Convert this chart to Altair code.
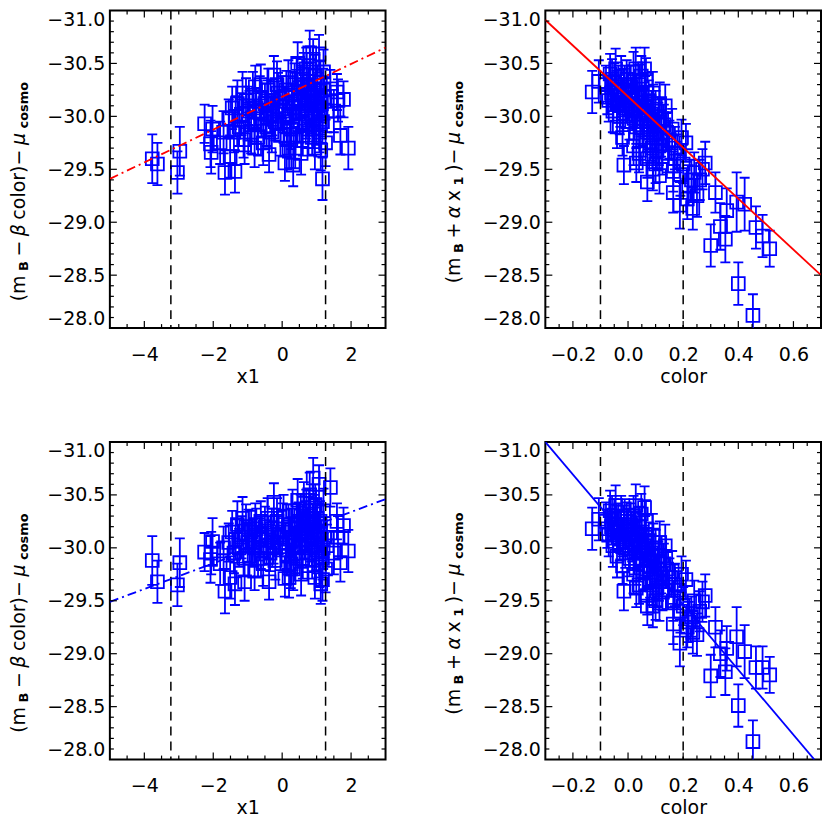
import altair as alt
import numpy as np
import pandas as pd

# ---------------- data ----------------
# left panels (x1): outliers, dense cluster, extras
X1_A = [-3.77, -3.62, -2.97, -3.04, -2.25, -2.02, -2.08, -2.06, -1.66, -1.37,
        -1.51, -1.09, -0.38, 0.08, 0.32, 1.17, 1.12, 1.69, 1.92, 1.78,
        1.59, 1.40, 1.07, 0.90, 0.70, -0.24, -0.62]
YTL_A = [-29.60, -29.55, -29.67, -29.47, -29.93, -29.88, -29.74, -29.66, -29.47, -29.48,
         -29.62, -29.73, -29.64, -29.56, -29.54, -29.41, -29.68, -29.82, -29.70, -30.16,
         -30.23, -30.26, -30.59, -30.54, -30.45, -30.39, -30.30]
YBL_A = [-29.88, -29.68, -29.86, -29.65, -29.96, -30.06, -29.89, -29.95, -29.59, -29.66,
         -29.72, -29.68, -29.68, -29.71, -29.80, -29.70, -29.66, -29.86, -29.97, -30.21,
         -30.25, -30.57, -30.60, -30.66, -30.35, -30.43, -30.25]
ERRL_A = [0.23, 0.20, 0.23, 0.20, 0.18, 0.22, 0.22, 0.20, 0.21, 0.20,
          0.20, 0.18, 0.17, 0.17, 0.20, 0.20, 0.19, 0.18, 0.20, 0.17,
          0.17, 0.18, 0.18, 0.19, 0.20, 0.18, 0.19]

X1_B = [-1.55, -1.45, -1.40, -1.30, -1.25, -1.18, -1.12, -1.05, -1.00, -0.95,
        -0.90, -0.85, -0.80, -0.75, -0.70, -0.65, -0.60, -0.55, -0.50, -0.45,
        -0.40, -0.35, -0.30, -0.25, -0.20, -0.15, -0.10, -0.05]
YTL_B = [-29.98, -30.08, -29.85, -30.12, -29.90, -30.02, -29.78, -30.15, -29.95, -30.05,
         -29.85, -30.20, -29.92, -30.08, -29.80, -30.18, -29.98, -29.75, -30.12, -29.90,
         -30.25, -30.02, -29.85, -30.15, -29.95, -30.30, -30.05, -29.82]
YBL_B = [-30.05, -30.15, -29.95, -30.22, -30.00, -30.10, -29.90, -30.20, -30.05, -29.92,
         -30.15, -30.05, -30.00, -30.18, -29.90, -30.08, -30.12, -29.85, -30.20, -30.02,
         -30.10, -29.95, -30.18, -30.05, -29.88, -30.25, -30.12, -29.98]
ERRL_B = [0.18, 0.20, 0.19, 0.22, 0.18, 0.20, 0.17, 0.21, 0.18, 0.19,
          0.20, 0.22, 0.18, 0.19, 0.17, 0.20, 0.18, 0.21, 0.19, 0.18,
          0.20, 0.17, 0.19, 0.20, 0.18, 0.22, 0.18, 0.19]

X1_C = [0.00, 0.04, 0.10, 0.14, 0.18, 0.22, 0.26, 0.30, 0.34, 0.38,
        0.42, 0.46, 0.50, 0.54, 0.57, 0.60, 0.63, 0.66, 0.69, 0.72,
        0.75, 0.78, 0.81, 0.84, 0.87, 0.90, 0.93, 0.96, 0.99, 1.02,
        1.05, 1.08, 1.11, 1.14, 1.17, 1.20, 1.23, 1.26, 1.30]
YTL_C = [-30.18, -29.95, -30.10, -29.78, -30.32, -30.02, -29.88, -30.22, -30.08, -29.70,
         -30.35, -30.15, -29.92, -30.28, -30.05, -29.82, -30.40, -30.18, -29.98, -30.30,
         -29.88, -30.12, -30.45, -30.02, -29.80, -30.25, -30.10, -30.38, -29.92, -30.20,
         -30.05, -29.85, -30.32, -30.12, -29.95, -30.42, -30.18, -29.75, -30.05]
YBL_C = [-30.15, -30.30, -30.05, -29.92, -30.20, -30.10, -29.85, -30.35, -30.02, -29.95,
         -30.22, -30.12, -30.00, -30.30, -30.15, -29.90, -30.42, -30.08, -30.25, -30.18,
         -29.95, -30.35, -30.30, -30.05, -29.88, -30.22, -30.12, -30.40, -29.98, -30.28,
         -30.15, -29.82, -30.20, -30.08, -29.90, -30.35, -30.10, -29.80, -30.02]
ERRL_C = [0.20, 0.20, 0.18, 0.17, 0.21, 0.18, 0.19, 0.20, 0.18, 0.19,
          0.20, 0.18, 0.17, 0.20, 0.18, 0.19, 0.20, 0.18, 0.19, 0.20,
          0.18, 0.19, 0.21, 0.18, 0.17, 0.20, 0.18, 0.20, 0.19, 0.19,
          0.18, 0.19, 0.20, 0.18, 0.20, 0.21, 0.19, 0.22, 0.20]

X1_D = [0.20, 0.55, -0.80, 0.95, 1.50, 1.62, -1.70, -1.80]
YTL_D = [-29.70, -29.65, -29.70, -29.70, -30.05, -30.15, -29.85, -29.75]
YBL_D = [-29.72, -29.75, -29.78, -29.72, -29.95, -30.10, -30.00, -29.85]
ERRL_D = [0.19, 0.20, 0.18, 0.20, 0.20, 0.20, 0.20, 0.20]

X1_E = [-1.35, -1.15, -0.98, -0.78, -0.62, -0.42, -0.28, -0.12, 0.02, 0.12,
        0.28, 0.36, 0.48, 0.58, 0.68, 0.76, 0.86, 0.92, 1.00, 1.10,
        1.19, 0.45, 0.80, 0.25]
YTL_E = [-30.00, -30.22, -30.10, -30.28, -30.05, -30.15, -30.00, -30.22, -30.05, -30.25,
         -30.12, -30.30, -30.02, -30.35, -30.08, -30.25, -30.15, -29.88, -30.12, -30.02,
         -30.25, -30.50, -30.60, -29.78]
YBL_E = [-30.08, -30.28, -30.18, -30.22, -29.98, -30.28, -30.00, -30.15, -30.22, -29.98,
         -30.18, -30.08, -30.25, -30.02, -30.15, -30.28, -30.02, -30.32, -30.10, -30.25,
         -30.00, -30.45, -30.50, -29.80]
ERRL_E = [0.19, 0.20, 0.18, 0.20, 0.18, 0.19, 0.18, 0.19, 0.20, 0.18,
          0.19, 0.20, 0.18, 0.19, 0.18, 0.20, 0.19, 0.18, 0.20, 0.19,
          0.20, 0.20, 0.21, 0.18]

# right panels (color)
COL_A = [-0.130, -0.106, -0.015, -0.020, 0.070, 0.114, 0.030, 0.164, 0.164, 0.188,
         0.194, 0.210, 0.235, 0.240, 0.280, 0.317, 0.300, 0.335, 0.353, 0.358,
         0.400, 0.394, 0.423, 0.453, 0.464, 0.488, 0.514, 0.270, 0.260, 0.220,
         0.250, 0.200, 0.180, 0.150, 0.140]
YTR_A = [-30.23, -30.33, -29.54, -29.80, -29.38, -29.44, -29.56, -29.28, -29.48, -29.16,
         -29.80, -29.75, -29.13, -29.47, -29.56, -29.28, -28.78, -28.96, -28.84, -29.11,
         -28.42, -29.19, -29.17, -28.12, -28.95, -28.87, -28.75, -29.50, -29.40, -29.35,
         -29.25, -29.55, -29.65, -29.78, -29.85]
YBR_A = [-30.18, -30.27, -29.59, -29.83, -29.45, -29.48, -29.62, -29.28, -29.50, -29.10,
         -29.75, -29.70, -29.20, -29.50, -29.55, -29.25, -28.79, -29.00, -28.83, -29.05,
         -28.51, -29.16, -29.02, -28.17, -28.87, -28.87, -28.80, -29.49, -29.40, -29.30,
         -29.18, -29.45, -29.60, -29.72, -29.80]
ERRR_A = [0.20, 0.20, 0.18, 0.17, 0.18, 0.17, 0.18, 0.19, 0.19, 0.22,
          0.17, 0.18, 0.20, 0.19, 0.20, 0.19, 0.20, 0.22, 0.22, 0.21,
          0.20, 0.28, 0.25, 0.20, 0.20, 0.20, 0.17, 0.19, 0.19, 0.19,
          0.20, 0.18, 0.18, 0.18, 0.18]

COL_B = [-0.080, -0.070, -0.065, -0.060, -0.055, -0.050, -0.045, -0.040, -0.035, -0.030,
         -0.025, -0.020, -0.015, -0.010, -0.005, 0.000, 0.005, 0.010, 0.015, 0.020,
         0.025, 0.030, 0.035, 0.040, 0.045, 0.050, 0.055, 0.060, 0.065, 0.070,
         0.075, 0.080, 0.085, 0.090, 0.095, 0.100, 0.105, 0.110, 0.115, 0.120,
         0.125, 0.130, 0.135, 0.040, 0.070, 0.100, -0.040, 0.020, 0.060, 0.090]
YTR_B = [-30.30, -30.15, -30.40, -30.22, -30.05, -30.32, -30.45, -30.12, -30.28, -30.00,
         -30.38, -30.18, -30.25, -30.08, -30.35, -30.15, -29.95, -30.28, -30.05, -30.42,
         -30.18, -29.90, -30.10, -30.30, -29.98, -30.20, -29.80, -30.08, -30.35, -29.92,
         -30.15, -29.75, -30.02, -30.22, -29.85, -30.05, -29.68, -29.95, -30.12, -29.80,
         -29.62, -29.92, -30.10, -29.65, -29.60, -29.55, -29.90, -29.72, -30.45, -29.50]
YBR_B = [-30.25, -30.12, -30.35, -30.20, -30.02, -30.28, -30.40, -30.15, -30.22, -30.05,
         -30.30, -30.10, -30.20, -30.00, -30.25, -30.12, -29.90, -30.22, -30.05, -30.30,
         -30.15, -29.85, -30.08, -30.20, -29.95, -30.12, -29.78, -30.02, -30.25, -29.88,
         -30.05, -29.70, -29.95, -30.12, -29.80, -29.98, -29.62, -29.88, -30.05, -29.75,
         -29.58, -29.85, -30.02, -29.65, -29.55, -29.50, -29.92, -29.75, -30.38, -29.45]
ERRR_B = [0.18, 0.20, 0.19, 0.17, 0.20, 0.18, 0.19, 0.18, 0.20, 0.17,
          0.19, 0.18, 0.20, 0.19, 0.18, 0.19, 0.17, 0.20, 0.18, 0.19,
          0.18, 0.20, 0.18, 0.19, 0.17, 0.20, 0.18, 0.19, 0.20, 0.18,
          0.19, 0.17, 0.18, 0.20, 0.18, 0.19, 0.17, 0.18, 0.20, 0.18,
          0.17, 0.19, 0.20, 0.18, 0.18, 0.18, 0.20, 0.18, 0.20, 0.20]

COL_C = [-0.075, -0.058, -0.042, -0.028, -0.012, 0.002, 0.012, 0.022, 0.032, 0.042,
         0.052, 0.062, 0.072, 0.082, 0.092, 0.102, 0.112, 0.122, 0.028, 0.048,
         0.068, 0.088, 0.145, 0.160, 0.170, 0.190, 0.215, 0.230]
YTR_C = [-30.20, -30.35, -30.25, -30.10, -30.30, -30.22, -30.12, -29.98, -30.22, -30.08,
         -29.90, -30.18, -30.02, -29.88, -30.12, -29.80, -29.72, -29.98, -30.45, -30.38,
         -29.85, -29.70, -29.65, -29.88, -29.70, -29.45, -29.22, -29.40]
YBR_C = [-30.18, -30.30, -30.22, -30.15, -30.28, -30.18, -30.08, -29.95, -30.12, -30.02,
         -29.88, -30.10, -29.95, -29.82, -30.05, -29.72, -29.68, -29.92, -30.40, -30.32,
         -29.80, -29.65, -29.60, -29.78, -29.65, -29.40, -29.25, -29.35]
ERRR_C = [0.18, 0.19, 0.18, 0.20, 0.18, 0.19, 0.18, 0.20, 0.18, 0.19,
          0.18, 0.20, 0.18, 0.19, 0.18, 0.20, 0.18, 0.19, 0.20, 0.19,
          0.18, 0.19, 0.18, 0.19, 0.20, 0.20, 0.19, 0.19]

# fit lines (end points) and cut lines
FIT_TL_X, FIT_TL_Y = [-5.0, 3.0], [-29.41, -30.65]
FIT_BL_X, FIT_BL_Y = [-5.0, 3.0], [-29.49, -30.46]
FIT_TR_X, FIT_TR_Y = [-0.3, 0.7], [-30.91, -28.50]
FIT_BR_X, FIT_BR_Y = [-0.3, 0.676], [-31.0, -28.0]
CUT_X1 = [-3.23, 1.26]
CUT_COLOR = [-0.1, 0.2]

# axes
X1_DOMAIN = [-5, 3]
X1_TICKS = [-4, -2, 0, 2]
COLOR_DOMAIN = [-0.3, 0.7]
COLOR_TICKS = [-0.2, 0.0, 0.2, 0.4, 0.6]
Y_DOMAIN = [-31, -28]
Y_TICKS = [-31.0, -30.5, -30.0, -29.5, -29.0, -28.5, -28.0]

# ---------------- styling ----------------
FONT = "DejaVu Sans"
FS = 19
SUB = 13
BLUE = "#0000ff"
RED = "#ff0000"
W, H = 276, 318
SW = 1.8

REG_W = {'(': 0.390, ')': 0.390, 'm': 0.974, '−': 0.838, '+': 0.838, 'β': 0.635,
         'α': 0.659, 'μ': 0.636, 'c': 0.550, 'o': 0.612, 'l': 0.278, 'r': 0.411,
         'x': 0.592}
BOLD_W = {'B': 0.762, '1': 0.696, 'c': 0.593, 'o': 0.687, 's': 0.595, 'm': 1.042}

ONE = pd.DataFrame({"k": [0]})


def seg_width(t, size, bold):
    tab = BOLD_W if bold else REG_W
    return sum(tab.get(ch, 0.6) for ch in t) * size


def title_layers(segs, center_y, base_x):
    gap = 4.5
    widths = [seg_width(t, s, w == "bold") for t, s, w, st, dx in segs]
    total = sum(widths) + gap * (len(segs) - 1)
    y = center_y + total / 2
    out = []
    for (t, s, w, st, dx), wd in zip(segs, widths):
        out.append(
            alt.Chart(ONE).mark_text(
                text=t, angle=270, align="left", baseline="alphabetic",
                font=FONT, fontSize=s, fontWeight=w, fontStyle=st, color="black"
            ).encode(x=alt.value(base_x + dx), y=alt.value(y))
        )
        y -= wd + gap
    return out


def minor_vals(lo, hi, step, majors):
    vals = np.round(np.arange(lo + step, hi - step / 2, step), 4)
    return [float(v) for v in vals if not any(abs(v - m) < 1e-6 for m in majors)]


def panel(xs, ys, errs, xdom, xmaj, xstep, xfmt, xtitle, cuts, fitx, fity,
          fitcolor, fitdash, segs, center_frac):
    n = min(len(xs), len(ys), len(errs))
    df = pd.DataFrame({
        "x": xs[:n], "y": ys[:n],
        "lo": [ys[i] - errs[i] for i in range(n)],
        "hi": [ys[i] + errs[i] for i in range(n)],
    })
    xsc = alt.Scale(domain=xdom, nice=False, zero=False)
    ysc = alt.Scale(domain=Y_DOMAIN, reverse=True, nice=False, zero=False)
    xaxis = alt.Axis(values=xmaj, format=xfmt, title=xtitle, ticks=False,
                     domain=False, grid=False, labelPadding=17, titlePadding=3,
                     labelFont=FONT, labelFontSize=FS, labelColor="black",
                     titleFont=FONT, titleFontSize=FS, titleFontWeight="normal",
                     titleColor="black", labelFlush=False)
    yaxis = alt.Axis(values=Y_TICKS, format=".1f", title="", ticks=False,
                     domain=False, grid=False, labelPadding=5, labelFlush=True,
                     labelFont=FONT, labelFontSize=FS, labelColor="black")

    def X(f):
        return alt.X(f, scale=xsc, axis=xaxis)

    def Y(f):
        return alt.Y(f, scale=ysc, axis=yaxis)

    base = alt.Chart(df)
    bars = base.mark_rule(color=BLUE, strokeWidth=SW, clip=True).encode(
        x=X("x:Q"), y=Y("lo:Q"), y2="hi:Q")
    cap_lo = base.mark_tick(color=BLUE, orient="horizontal", size=10, thickness=SW,
                            opacity=1, clip=True).encode(x=X("x:Q"), y=Y("lo:Q"))
    cap_hi = base.mark_tick(color=BLUE, orient="horizontal", size=10, thickness=SW,
                            opacity=1, clip=True).encode(x=X("x:Q"), y=Y("hi:Q"))
    pts = base.mark_point(shape="square", size=165, filled=False, color=BLUE,
                          strokeWidth=SW, opacity=1, clip=True).encode(
        x=X("x:Q"), y=Y("y:Q"))

    cut = alt.Chart(pd.DataFrame({"c": cuts})).mark_rule(
        color="black", strokeWidth=1.5, strokeDash=[9, 6]).encode(x=X("c:Q"))
    fit = alt.Chart(pd.DataFrame({"fx": fitx, "fy": fity})).mark_line(
        color=fitcolor, strokeWidth=1.8, clip=True,
        **({"strokeDash": fitdash} if fitdash else {})).encode(
        x=X("fx:Q"), y=Y("fy:Q"))

    ticks = []
    xmin = minor_vals(xdom[0], xdom[1], xstep, xmaj)
    xmj = [v for v in xmaj if xdom[0] < v < xdom[1]]
    ymj = Y_TICKS[1:-1]
    ymn = minor_vals(-31, -28, 0.1, Y_TICKS)
    for vals, L in ((xmj, 7), (xmin, 4)):
        c = alt.Chart(pd.DataFrame({"v": vals})).mark_rule(color="black", strokeWidth=1.2)
        ticks.append(c.encode(x=X("v:Q"), y=alt.value(H), y2=alt.value(H - L)))
        ticks.append(c.encode(x=X("v:Q"), y=alt.value(0), y2=alt.value(L)))
    for vals, L in ((ymj, 7), (ymn, 4)):
        c = alt.Chart(pd.DataFrame({"v": vals})).mark_rule(color="black", strokeWidth=1.2)
        ticks.append(c.encode(y=Y("v:Q"), x=alt.value(0), x2=alt.value(L)))
        ticks.append(c.encode(y=Y("v:Q"), x=alt.value(W), x2=alt.value(W - L)))

    titles = title_layers(segs, H * center_frac, -85)
    return alt.layer(bars, cap_lo, cap_hi, pts, cut, fit, *ticks,
                     *titles).properties(width=W, height=H)


SEG_LEFT = [("(m", FS, "normal", "normal", 0), ("B", SUB, "bold", "normal", 3),
            ("−", FS, "normal", "normal", 0), ("β", FS, "normal", "italic", 0),
            ("color)−", FS, "normal", "normal", 0), ("μ", FS, "normal", "italic", 0),
            ("cosmo", SUB, "bold", "normal", 3)]
SEG_RIGHT = [("(m", FS, "normal", "normal", 0), ("B", SUB, "bold", "normal", 3),
             ("+", FS, "normal", "normal", 0), ("α", FS, "normal", "italic", 0),
             ("x", FS, "normal", "normal", 0), ("1", SUB, "bold", "normal", 3),
             (")−", FS, "normal", "normal", 0), ("μ", FS, "normal", "italic", 0),
             ("cosmo", SUB, "bold", "normal", 3)]

X1 = X1_A + X1_B + X1_C + X1_D + X1_E
YTL = YTL_A + YTL_B + YTL_C + YTL_D + YTL_E
YBL = YBL_A + YBL_B + YBL_C + YBL_D + YBL_E
ERRL = ERRL_A + ERRL_B + ERRL_C + ERRL_D + ERRL_E
COL = COL_A + COL_B + COL_C
YTR = YTR_A + YTR_B + YTR_C
YBR = YBR_A + YBR_B + YBR_C
ERRR = ERRR_A + ERRR_B + ERRR_C

tl = panel(X1, YTL, ERRL, X1_DOMAIN, X1_TICKS, 0.5, "d", "x1", CUT_X1,
           FIT_TL_X, FIT_TL_Y, RED, [9, 4, 2, 4], SEG_LEFT, 0.57)
tr = panel(COL, YTR, ERRR, COLOR_DOMAIN, COLOR_TICKS, 0.05, ".1f", "color", CUT_COLOR,
           FIT_TR_X, FIT_TR_Y, RED, None, SEG_RIGHT, 0.54)
bl = panel(X1, YBL, ERRL, X1_DOMAIN, X1_TICKS, 0.5, "d", "x1", CUT_X1,
           FIT_BL_X, FIT_BL_Y, BLUE, [9, 4, 2, 4], SEG_LEFT, 0.57)
br = panel(COL, YBR, ERRR, COLOR_DOMAIN, COLOR_TICKS, 0.05, ".1f", "color", CUT_COLOR,
           FIT_BR_X, FIT_BR_Y, BLUE, None, SEG_RIGHT, 0.54)

chart = alt.concat(tl, tr, bl, br, columns=2, spacing={"row": 114, "column": 160},
                   bounds="flush").properties(
    padding=0, background="white"
).configure_view(stroke="black", strokeWidth=2)

chart.save("out.html", embed_options={"renderer": "svg", "actions": False})
